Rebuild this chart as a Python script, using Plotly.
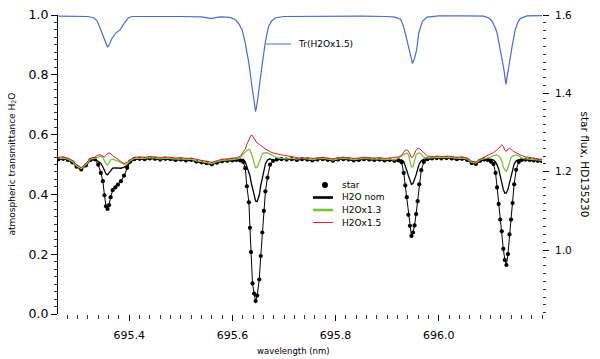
import plotly.graph_objects as go

# wavelength grid (nm) shared by the star spectrum and the corrected spectra
wl = [
    695.263, 695.272, 695.281, 695.290, 695.298, 695.307, 695.316, 695.325, 695.333, 695.340,
    695.345, 695.349, 695.352, 695.355, 695.358, 695.361, 695.364, 695.368, 695.373, 695.378,
    695.384, 695.390, 695.396, 695.402, 695.410, 695.420, 695.430, 695.440, 695.450, 695.460,
    695.470, 695.480, 695.490, 695.500, 695.510, 695.520, 695.530, 695.540, 695.550, 695.560,
    695.570, 695.580, 695.590, 695.600, 695.608, 695.615, 695.621, 695.625, 695.628, 695.632,
    695.634, 695.636, 695.639, 695.642, 695.645, 695.648, 695.652, 695.655, 695.658, 695.661,
    695.664, 695.668, 695.673, 695.679, 695.686, 695.695, 695.705, 695.715, 695.725, 695.735,
    695.745, 695.755, 695.765, 695.775, 695.785, 695.795, 695.805, 695.815, 695.825, 695.835,
    695.845, 695.855, 695.865, 695.875, 695.885, 695.895, 695.905, 695.914, 695.922, 695.928,
    695.932, 695.935, 695.938, 695.941, 695.944, 695.947, 695.950, 695.953, 695.956, 695.959,
    695.962, 695.966, 695.971, 695.978, 695.987, 695.996, 696.005, 696.015, 696.025, 696.035,
    696.045, 696.055, 696.064, 696.072, 696.080, 696.088, 696.095, 696.101, 696.106, 696.110,
    696.113, 696.116, 696.119, 696.122, 696.125, 696.128, 696.131, 696.134, 696.137, 696.140,
    696.143, 696.146, 696.150, 696.155, 696.161, 696.168, 696.176, 696.184, 696.192, 696.200,
]

star = [
    1.232, 1.233, 1.230, 1.224, 1.213, 1.206, 1.216, 1.230, 1.232, 1.218,
    1.197, 1.176, 1.140, 1.112, 1.105, 1.115, 1.135, 1.153, 1.160, 1.167,
    1.176, 1.190, 1.210, 1.226, 1.232, 1.233, 1.232, 1.234, 1.233, 1.231,
    1.233, 1.232, 1.230, 1.231, 1.229, 1.230, 1.226, 1.224, 1.222, 1.219,
    1.223, 1.227, 1.228, 1.229, 1.230, 1.229, 1.225, 1.209, 1.163, 1.122,
    1.057, 0.995, 0.915, 0.889, 0.870, 0.884, 0.925, 0.985, 1.045, 1.100,
    1.150, 1.185, 1.218, 1.228, 1.231, 1.232, 1.231, 1.232, 1.230, 1.232,
    1.231, 1.229, 1.231, 1.232, 1.230, 1.228, 1.231, 1.232, 1.231, 1.229,
    1.230, 1.232, 1.231, 1.230, 1.231, 1.229, 1.230, 1.228, 1.229, 1.224,
    1.197, 1.165, 1.135, 1.090, 1.062, 1.036, 1.045, 1.063, 1.092, 1.125,
    1.168, 1.204, 1.225, 1.232, 1.234, 1.235, 1.234, 1.235, 1.234, 1.232,
    1.233, 1.230, 1.222, 1.220, 1.228, 1.231, 1.230, 1.226, 1.220, 1.197,
    1.160, 1.118, 1.078, 1.048, 1.003, 0.975, 0.962, 0.990, 1.040, 1.078,
    1.120, 1.168, 1.205, 1.225, 1.230, 1.231, 1.230, 1.229, 1.228, 1.227,
]

h2o_nom = [
    1.232, 1.233, 1.230, 1.224, 1.213, 1.206, 1.216, 1.230, 1.232, 1.226,
    1.222, 1.212, 1.202, 1.195, 1.192, 1.197, 1.204, 1.209, 1.210, 1.210,
    1.209, 1.212, 1.216, 1.226, 1.232, 1.233, 1.232, 1.234, 1.233, 1.231,
    1.233, 1.232, 1.230, 1.231, 1.229, 1.230, 1.226, 1.224, 1.222, 1.219,
    1.223, 1.227, 1.228, 1.229, 1.230, 1.229, 1.232, 1.225, 1.213, 1.200,
    1.190, 1.175, 1.160, 1.138, 1.125, 1.124, 1.140, 1.165, 1.182, 1.205,
    1.220, 1.230, 1.233, 1.228, 1.231, 1.232, 1.231, 1.232, 1.230, 1.232,
    1.231, 1.229, 1.231, 1.232, 1.230, 1.228, 1.231, 1.232, 1.231, 1.229,
    1.230, 1.232, 1.231, 1.230, 1.231, 1.229, 1.230, 1.228, 1.229, 1.230,
    1.226, 1.216, 1.203, 1.190, 1.177, 1.168, 1.170, 1.180, 1.192, 1.207,
    1.220, 1.228, 1.232, 1.232, 1.234, 1.235, 1.234, 1.235, 1.234, 1.232,
    1.233, 1.230, 1.222, 1.220, 1.228, 1.231, 1.230, 1.232, 1.230, 1.225,
    1.217, 1.207, 1.190, 1.171, 1.155, 1.145, 1.146, 1.155, 1.172, 1.190,
    1.208, 1.220, 1.228, 1.231, 1.230, 1.231, 1.230, 1.229, 1.228, 1.227,
]

h2o_x13 = [
    1.234, 1.235, 1.232, 1.226, 1.215, 1.208, 1.218, 1.232, 1.234, 1.238,
    1.240, 1.236, 1.228, 1.220, 1.217, 1.222, 1.230, 1.232, 1.230, 1.227,
    1.223, 1.219, 1.220, 1.228, 1.234, 1.235, 1.234, 1.236, 1.235, 1.233,
    1.235, 1.234, 1.232, 1.233, 1.231, 1.232, 1.228, 1.226, 1.224, 1.221,
    1.225, 1.229, 1.230, 1.231, 1.232, 1.236, 1.243, 1.250, 1.254, 1.257,
    1.256, 1.250, 1.238, 1.222, 1.210, 1.211, 1.225, 1.237, 1.245, 1.248,
    1.249, 1.248, 1.245, 1.240, 1.236, 1.234, 1.233, 1.234, 1.232, 1.234,
    1.233, 1.231, 1.233, 1.234, 1.232, 1.230, 1.233, 1.234, 1.233, 1.231,
    1.232, 1.234, 1.233, 1.232, 1.233, 1.231, 1.232, 1.230, 1.236, 1.241,
    1.244, 1.247, 1.248, 1.244, 1.228, 1.212, 1.213, 1.230, 1.243, 1.247,
    1.248, 1.244, 1.237, 1.235, 1.236, 1.237, 1.236, 1.237, 1.236, 1.234,
    1.235, 1.232, 1.224, 1.222, 1.230, 1.233, 1.234, 1.238, 1.241, 1.243,
    1.243, 1.240, 1.236, 1.228, 1.212, 1.204, 1.201, 1.210, 1.225, 1.236,
    1.240, 1.242, 1.243, 1.240, 1.235, 1.233, 1.232, 1.231, 1.230, 1.229,
]

h2o_x15 = [
    1.237, 1.238, 1.235, 1.229, 1.218, 1.211, 1.221, 1.235, 1.237, 1.243,
    1.243, 1.240, 1.237, 1.242, 1.247, 1.248, 1.246, 1.241, 1.236, 1.231,
    1.227, 1.221, 1.224, 1.231, 1.237, 1.238, 1.237, 1.239, 1.238, 1.236,
    1.238, 1.237, 1.235, 1.236, 1.234, 1.235, 1.231, 1.229, 1.227, 1.224,
    1.228, 1.232, 1.233, 1.234, 1.236, 1.239, 1.249, 1.258, 1.270, 1.282,
    1.288, 1.293, 1.292, 1.286, 1.279, 1.273, 1.270, 1.266, 1.264, 1.261,
    1.258, 1.255, 1.251, 1.248, 1.245, 1.243, 1.241, 1.238, 1.236, 1.234,
    1.236, 1.234, 1.236, 1.237, 1.235, 1.233, 1.236, 1.237, 1.236, 1.234,
    1.235, 1.237, 1.236, 1.235, 1.236, 1.234, 1.235, 1.236, 1.238, 1.242,
    1.249, 1.255, 1.256, 1.253, 1.245, 1.236, 1.238, 1.248, 1.255, 1.259,
    1.260, 1.255, 1.248, 1.240, 1.238, 1.240, 1.239, 1.240, 1.239, 1.237,
    1.238, 1.235, 1.227, 1.225, 1.232, 1.238, 1.242, 1.246, 1.249, 1.252,
    1.256, 1.260, 1.265, 1.269, 1.265, 1.255, 1.252, 1.258, 1.260, 1.258,
    1.254, 1.251, 1.248, 1.244, 1.241, 1.238, 1.237, 1.235, 1.233, 1.232,
]

# atmospheric transmittance Tr(H2Ox1.5), left axis
wl_tr = [
    695.263, 695.290, 695.320, 695.332, 695.338, 695.344, 695.351, 695.355, 695.358, 695.362,
    695.366, 695.373, 695.383, 695.388, 695.393, 695.398, 695.405, 695.450, 695.500, 695.540,
    695.553, 695.560, 695.567, 695.578, 695.595, 695.605, 695.612, 695.619, 695.625, 695.632,
    695.638, 695.642, 695.645, 695.648, 695.651, 695.658, 695.664, 695.670, 695.676, 695.683,
    695.699, 695.750, 695.800, 695.850, 695.900, 695.915, 695.926, 695.931, 695.935, 695.942,
    695.946, 695.949, 695.953, 695.957, 695.961, 695.965, 695.968, 695.977, 696.000, 696.050,
    696.087, 696.097, 696.103, 696.110, 696.113, 696.119, 696.126, 696.130, 696.134, 696.138,
    696.142, 696.148, 696.153, 696.158, 696.171, 696.200,
]
tr = [
    0.996, 0.996, 0.995, 0.990, 0.980, 0.955, 0.922, 0.900, 0.892, 0.903,
    0.920, 0.938, 0.952, 0.966, 0.978, 0.990, 0.995, 0.996, 0.995, 0.994,
    0.991, 0.988, 0.991, 0.994, 0.992, 0.985, 0.972, 0.950, 0.905, 0.838,
    0.760, 0.705, 0.677, 0.705, 0.749, 0.838, 0.911, 0.961, 0.980, 0.990,
    0.995, 0.996, 0.995, 0.996, 0.995, 0.993, 0.986, 0.965, 0.939, 0.883,
    0.852, 0.838, 0.855, 0.883, 0.939, 0.965, 0.978, 0.993, 0.997, 0.997,
    0.996, 0.990, 0.980, 0.955, 0.939, 0.883, 0.820, 0.768, 0.815, 0.860,
    0.894, 0.950, 0.975, 0.988, 0.997, 0.998,
]

# tick labels
x_ticks = [695.4, 695.6, 695.8, 696.0]
y_left_ticks = [0.0, 0.2, 0.4, 0.6, 0.8, 1.0]
y_right_ticks = [1.0, 1.2, 1.4, 1.6]

FONT = "DejaVu Sans"
BLUE = "#4a6bd6"
GREEN = "#7dc23a"
RED = "#e0202a"
xrange_ = [695.262, 696.2]

fig = go.Figure()
fig.add_trace(go.Scatter(x=wl_tr, y=tr, xaxis="x", yaxis="y", mode="lines",
                         line=dict(color=BLUE, width=1.2), name="Tr(H2Ox1.5)"))
fig.add_trace(go.Scatter(x=wl, y=star, xaxis="x", yaxis="y2", mode="lines+markers",
                         line=dict(color="black", width=1),
                         marker=dict(color="black", size=4.2), name="star"))
fig.add_trace(go.Scatter(x=wl, y=h2o_nom, xaxis="x", yaxis="y2", mode="lines",
                         line=dict(color="black", width=1.3), name="H2O nom"))
fig.add_trace(go.Scatter(x=wl, y=h2o_x13, xaxis="x", yaxis="y2", mode="lines",
                         line=dict(color=GREEN, width=1.3), name="H2Ox1.3"))
fig.add_trace(go.Scatter(x=wl, y=h2o_x15, xaxis="x", yaxis="y2", mode="lines",
                         line=dict(color=RED, width=1), name="H2Ox1.5"))

# hand-made legends (plotly's legend rows are too tall for this layout)
# positions given in window pixels, converted to paper fractions of the plot area
def px_x(x):
    return (x - 58) / 484

def px_y(y):
    return (314 - y) / 299

ann = []
shapes = []
entries = [("star", None, None, 185), ("H2O nom", "black", 2.6, 197.5),
           ("H2Ox1.3", GREEN, 2.6, 210), ("H2Ox1.5", RED, 1, 222.5)]
for label, col, w, y in entries:
    ann.append(dict(text=label, x=px_x(340), y=px_y(y), xref="paper", yref="paper",
                    xanchor="left", yanchor="middle", showarrow=False,
                    font=dict(family=FONT, size=9, color="black")))
    if col is None:
        shapes.append(dict(type="circle", xref="paper", yref="paper",
                           xsizemode="pixel", ysizemode="pixel",
                           xanchor=px_x(325), yanchor=px_y(y),
                           x0=-3, x1=3, y0=-3, y1=3,
                           fillcolor="black", line=dict(width=0)))
    else:
        shapes.append(dict(type="line", xref="paper", yref="paper",
                           x0=px_x(313), x1=px_x(333), y0=px_y(y), y1=px_y(y),
                           line=dict(color=col, width=w)))
ann.append(dict(text="Tr(H2Ox1.5)", x=px_x(296), y=px_y(44), xref="paper", yref="paper",
                xanchor="left", yanchor="middle", showarrow=False,
                font=dict(family=FONT, size=9, color="black")))
shapes.append(dict(type="line", xref="paper", yref="paper",
                   x0=px_x(266), x1=px_x(291), y0=px_y(44), y1=px_y(44),
                   line=dict(color=BLUE, width=1)))

# axis titles
ann.append(dict(text="atmospheric transmittance H<sub>2</sub>O", x=px_x(12), y=0.5,
                xref="paper", yref="paper", textangle=-90, showarrow=False,
                xanchor="center", yanchor="middle", font=dict(family=FONT, size=9)))
ann.append(dict(text="star flux, HD135230", x=px_x(585), y=0.5,
                xref="paper", yref="paper", textangle=90, showarrow=False,
                xanchor="center", yanchor="middle", font=dict(family=FONT, size=10.5)))
ann.append(dict(text="wavelength (nm)", x=px_x(293), y=px_y(351),
                xref="paper", yref="paper", showarrow=False,
                xanchor="center", yanchor="middle", font=dict(family=FONT, size=8.5)))

# the page puts the figure 8 px in from the window corner, so the figure is
# 8 px smaller and the left/top margins 8 px narrower
fig.update_layout(
    template="none",
    width=592, height=351,
    margin=dict(l=50, r=58, t=7, b=45),
    paper_bgcolor="white", plot_bgcolor="white",
    font=dict(family=FONT, color="black"),
    showlegend=False,
    xaxis=dict(range=xrange_, automargin=False, showline=False, showgrid=False,
               zeroline=False, ticks="outside", ticklen=6, tickcolor="black", tickwidth=1,
               tickmode="array", tickvals=x_ticks, tickformat=".1f",
               tickfont=dict(size=11), ticklabelstandoff=5,
               minor=dict(ticks="outside", ticklen=4, dtick=0.02, tick0=695.4,
                          tickcolor="#333", showgrid=False)),
    # top frame line with its own ticks, no data on it
    xaxis2=dict(range=xrange_, overlaying="x", side="top", anchor="y", automargin=False,
                showline=True, linecolor="black", linewidth=1,
                showgrid=False, zeroline=False, showticklabels=False,
                ticks="outside", ticklen=5, tickcolor="black", tick0=695.4, dtick=0.1,
                minor=dict(ticks="outside", ticklen=3, dtick=0.02, tick0=695.4,
                           tickcolor="#333", showgrid=False)),
    yaxis=dict(range=[0, 1.0], automargin=False, showline=True, linecolor="black",
               linewidth=1, showgrid=False, zeroline=False, ticks="outside", ticklen=6,
               tickcolor="black", tickmode="array", tickvals=y_left_ticks,
               tickformat=".1f", tickfont=dict(size=12.5), ticklabeloverflow="allow",
               minor=dict(ticks="outside", ticklen=3, dtick=0.025, tick0=0,
                          tickcolor="#333", showgrid=False)),
    yaxis2=dict(range=[0.837, 1.6], overlaying="y", side="right", anchor="x",
                automargin=False, showline=False, showgrid=False, zeroline=False,
                ticks="outside", ticklen=6, tickcolor="black",
                tickmode="array", tickvals=y_right_ticks, ticklabeloverflow="allow",
                tickformat=".1f", tickfont=dict(size=10.5), ticklabelstandoff=4,
                minor=dict(ticks="outside", ticklen=3, dtick=0.02, tick0=1.0,
                           tickcolor="#333", showgrid=False)),
    annotations=ann,
    shapes=shapes,
)

fig.write_html("out.html")
